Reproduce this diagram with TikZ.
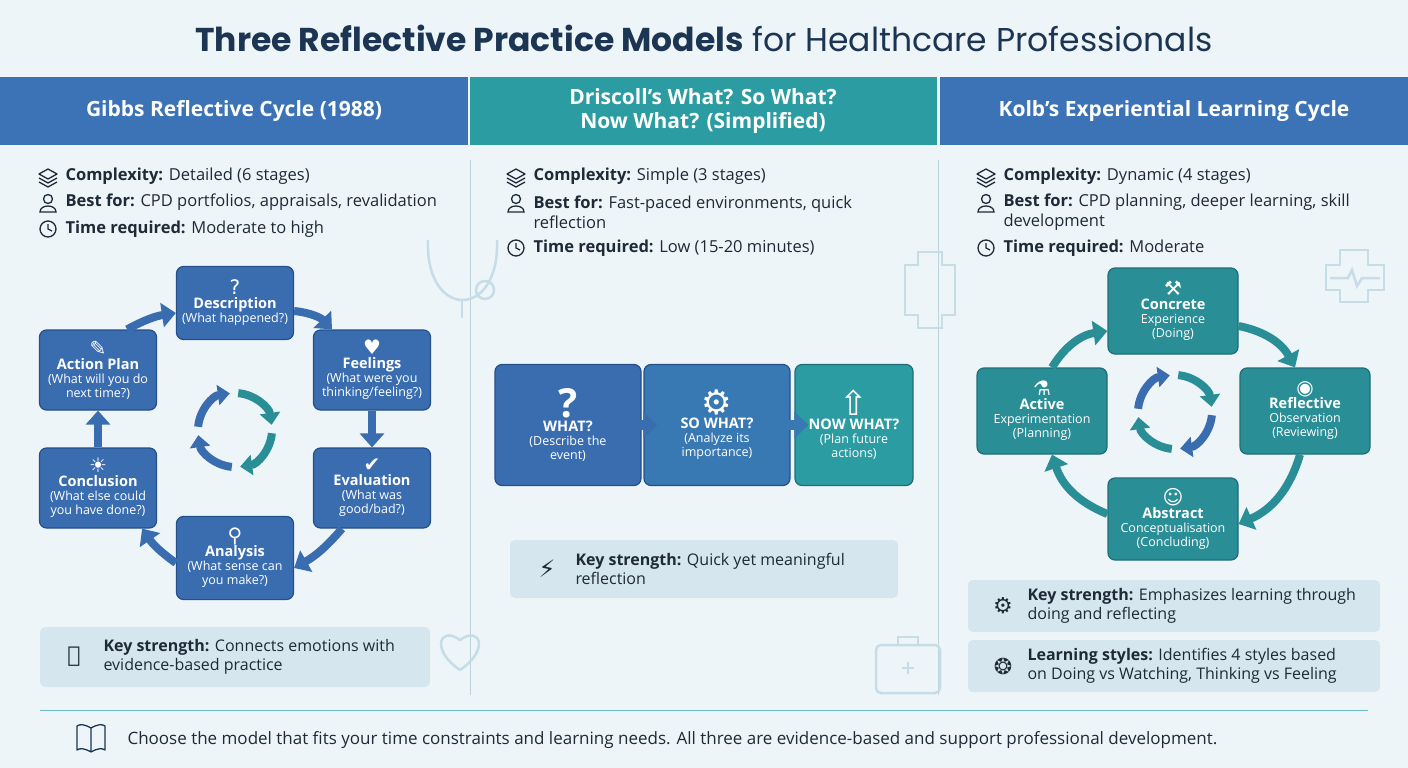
\documentclass[tikz,border=0pt]{standalone}
\usepackage{fontspec}
\setmainfont{Open Sans}
\newfontfamily\titlefont{Poppins}
\newfontfamily\sym{DejaVu Sans}
\usetikzlibrary{arrows.meta,positioning}
\definecolor{bgcol}{HTML}{EDF5F8}
\definecolor{titlecol}{HTML}{1C3553}
\definecolor{hblue}{HTML}{3B73B6}
\definecolor{hteal}{HTML}{2B9CA2}
\definecolor{gblue}{HTML}{3A6DB0}
\definecolor{gdark}{HTML}{244F8A}
\definecolor{kteal}{HTML}{2A8E97}
\definecolor{kdark}{HTML}{1F6E77}
\definecolor{keybox}{HTML}{D6E6EF}
\definecolor{linecol}{HTML}{BFD3DC}
\definecolor{faint}{HTML}{C6DCE6}
\definecolor{txtcol}{HTML}{1E2A36}

\tikzset{
    bodytext/.style={anchor=west, text=txtcol, font=\fontsize{16.5}{20}\selectfont, align=left},
    headtext/.style={text=white, font=\fontsize{21}{24}\selectfont\bfseries, align=center},
    gbox/.style={rounded corners=7, fill=gblue, draw=gdark, line width=1.2, text=white, align=center,
        minimum width=117, minimum height=80, inner sep=2, font=\fontsize{12.5}{14}\selectfont},
    kbox/.style={gbox, fill=kteal, draw=kdark, minimum width=130, minimum height=86},
    keystyle/.style={rounded corners=5, fill=keybox, draw=none},
    barrow/.style={line width=8, draw=gblue, -{Triangle[length=14,width=24]}},
    tarrow/.style={barrow, draw=kteal},
    clockic/.pic={\draw[line width=1.3, txtcol] (0,0) circle (8); \draw[line width=1.3, txtcol] (0,-5) -- (0,0) -- (4,2);},
    userico/.pic={\draw[line width=1.3, txtcol] (0,-4) circle (4.5); \draw[line width=1.3, txtcol] (-8,9) .. controls (-8,1) and (8,1) .. (8,9) -- cycle;},
    layersic/.pic={\draw[line width=1.3, txtcol, line join=round] (0,-7) -- (9,-2) -- (0,3) -- (-9,-2) -- cycle;
        \draw[line width=1.3, txtcol, line join=round] (-9,2) -- (0,7) -- (9,2); \draw[line width=1.3, txtcol, line join=round] (-9,6) -- (0,11) -- (9,6);},
}
\newcommand{\bxhead}{\fontsize{14.5}{16}\selectfont\bfseries}
\newcommand{\bxsub}{\fontsize{12.5}{14}\selectfont\mdseries}
\newcommand{\bxicon}{\sym\fontsize{20}{22}\selectfont}

\begin{document}
\begin{tikzpicture}[x=1pt, y=-1pt]
    \useasboundingbox (0,0) rectangle (1408,768);
    \fill[bgcol] (0,0) rectangle (1408,768);

    % Title
    \node[text=titlecol, font=\titlefont\fontsize{33}{36}\selectfont] (title) at (704,38)
        {\textbf{Three Reflective Practice Models} for Healthcare Professionals};

    % Header bands
    \fill[hblue] (0,77) rectangle (468,145);
    \fill[hteal] (470,77) rectangle (937,145);
    \fill[hblue] (940,77) rectangle (1408,145);
    \node[headtext] (h1) at (234,111) {Gibbs Reflective Cycle (1988)};
    \node[headtext] (h2) at (703,111) {Driscoll's What? So What?\\Now What? (Simplified)};
    \node[headtext] (h3) at (1174,111) {Kolb's Experiential Learning Cycle};

    % Column dividers
    \draw[linecol, line width=1] (470,160) -- (470,695);
    \draw[linecol, line width=1] (938,160) -- (938,695);

    % Faint background marks
    \begin{scope}[faint, line width=2.5]
        \draw (428,240) .. controls (425,320) and (500,320) .. (497,240);
        \draw (462,300) -- (462,318);
        \draw (485,290) circle (9);
        \draw (918,265) -- (918,252) -- (942,252) -- (942,265) -- (955,265) -- (955,315) -- (942,315) -- (942,328) -- (918,328) -- (918,315) -- (905,315) -- (905,265) -- cycle;
        \draw (1340,265) -- (1340,250) -- (1368,250) -- (1368,265) -- (1384,265) -- (1384,290) -- (1368,290) -- (1368,302) -- (1340,302) -- (1340,290) -- (1326,290) -- (1326,265) -- cycle;
        \draw (1330,278) -- (1348,278) -- (1352,270) -- (1357,286) -- (1362,278) -- (1380,278);
        \draw (460,670) .. controls (430,650) and (440,625) .. (460,640) .. controls (480,625) and (490,650) .. (460,670);
        \draw[rounded corners=5] (876,645) rectangle (940,693);
        \draw (898,645) -- (898,637) -- (918,637) -- (918,645);
        \draw (902,668) -- (914,668) (908,662) -- (908,674);
    \end{scope}

    % Gibbs bullets
    \pic at (48,176) {layersic};
    \pic at (48,203) {userico};
    \pic at (48,229) {clockic};
    \node[bodytext] (g1) at (62,176) {\textbf{Complexity:} Detailed (6 stages)};
    \node[bodytext] (g2) at (62,202) {\textbf{Best for:} CPD portfolios, appraisals, revalidation};
    \node[bodytext] (g3) at (62,229) {\textbf{Time required:} Moderate to high};

    % Gibbs cycle
    \node[gbox, minimum height=73] (desc) at (235,303) {\bxicon ?\\\normalfont\bxhead Description\\\bxsub (What happened?)};
    \node[gbox] (feel) at (372,370) {\bxicon ♥\\\normalfont\bxhead Feelings\\\bxsub (What were you\\thinking/feeling?)};
    \node[gbox] (eval) at (372,488) {\bxicon ✔\\\normalfont\bxhead Evaluation\\\bxsub (What was\\good/bad?)};
    \node[gbox, minimum height=83] (anal) at (235,558) {\bxicon ⚲\\\normalfont\bxhead Analysis\\\bxsub (What sense can\\you make?)};
    \node[gbox] (concl) at (98,488) {\bxicon ☀\\\normalfont\bxhead Conclusion\\\bxsub (What else could\\you have done?)};
    \node[gbox] (act) at (98,370) {\bxicon ✎\\\normalfont\bxhead Action Plan\\\bxsub (What will you do\\next time?)};
    \draw[barrow] ([yshift=-8]desc.east) to[bend left=20] ([xshift=-40]feel.north);
    \draw[barrow] (feel.south) -- (eval.north);
    \draw[barrow] ([xshift=-30]eval.south) to[bend left=10] ([yshift=-10]anal.east);
    \draw[barrow] ([yshift=-5]anal.west) to[bend left=10] ([xshift=-15]concl.south east);
    \draw[barrow] (concl.north) -- (act.south);
    \draw[barrow] ([xshift=-30]act.north east) to[bend left=10] ([yshift=-10]desc.west);
    \coordinate (gc) at (235,430);
    \draw[barrow, -{Triangle[length=12,width=20]}] (gc) ++(185:37) arc[start angle=185, end angle=262, radius=37];
    \draw[tarrow, -{Triangle[length=12,width=20]}] (gc) ++(275:37) arc[start angle=275, end angle=352, radius=37];
    \draw[tarrow, -{Triangle[length=12,width=20]}] (gc) ++(5:37) arc[start angle=5, end angle=82, radius=37];
    \draw[barrow, -{Triangle[length=12,width=20]}] (gc) ++(95:37) arc[start angle=95, end angle=172, radius=37];

    % Gibbs key strength
    \fill[keystyle] (40,627) rectangle (430,687);
    \node[text=txtcol, font=\sym\fontsize{22}{22}\selectfont] (hand) at (74,657) {✋};
    \node[bodytext, font=\fontsize{16}{19}\selectfont] (gkey) at (100,657) {\textbf{Key strength:} Connects emotions with\\evidence-based practice};

    % Driscoll bullets
    \pic at (516,176) {layersic};
    \pic at (516,203) {userico};
    \pic at (516,248) {clockic};
    \node[bodytext] (d1) at (530,176) {\textbf{Complexity:} Simple (3 stages)};
    \node[bodytext] (d2) at (530,212) {\textbf{Best for:} Fast-paced environments, quick\\reflection};
    \node[bodytext] (d3) at (530,248) {\textbf{Time required:} Low (15-20 minutes)};

    % Driscoll steps
    \node[gbox, minimum width=146, minimum height=121] (what) at (568,425) {\fontsize{40}{42}\selectfont\bfseries ?\\\bxhead WHAT?\\\bxsub (Describe the\\event)};
    \node[gbox, fill=hblue!85!hteal, minimum width=146, minimum height=121] (sowhat) at (717,425) {\sym\fontsize{34}{38}\selectfont ⚙\\\normalfont\bxhead SO WHAT?\\\bxsub (Analyze its\\importance)};
    \node[gbox, fill=hteal, draw=kdark, minimum width=118, minimum height=121] (nowwhat) at (854,425) {\sym\fontsize{34}{38}\selectfont ⇧\\\normalfont\bxhead NOW WHAT?\\\bxsub (Plan future\\actions)};
    \draw[barrow, line width=10, -{Triangle[length=14,width=26]}] ([xshift=-10]what.east) -- ([xshift=14]sowhat.west);
    \draw[barrow, draw=hblue!85!hteal, line width=10, -{Triangle[length=14,width=26]}] ([xshift=-10]sowhat.east) -- ([xshift=14]nowwhat.west);

    % Driscoll key strength
    \fill[keystyle] (510,540) rectangle (898,598);
    \node[text=txtcol, font=\sym\fontsize{24}{24}\selectfont] (bolt) at (547,569) {⚡};
    \node[bodytext, font=\fontsize{16}{19}\selectfont] (dkey) at (572,569) {\textbf{Key strength:} Quick yet meaningful\\reflection};

    % Kolb bullets
    \pic at (986,176) {layersic};
    \pic at (986,203) {userico};
    \pic at (986,248) {clockic};
    \node[bodytext] (k1) at (1000,176) {\textbf{Complexity:} Dynamic (4 stages)};
    \node[bodytext] (k2) at (1000,212) {\textbf{Best for:} CPD planning, deeper learning, skill\\development};
    \node[bodytext] (k3) at (1000,248) {\textbf{Time required:} Moderate};

    % Kolb cycle
    \node[kbox] (ce) at (1173,311) {\bxicon ⚒\\\normalfont\bxhead Concrete\\Experience\\\bxsub (Doing)};
    \node[kbox] (ro) at (1305,411) {\bxicon ◉\\\normalfont\bxhead Reflective\\Observation\\\bxsub (Reviewing)};
    \node[kbox, minimum height=82] (ac) at (1173,519) {\bxicon ☺\\\normalfont\bxhead Abstract\\Conceptualisation\\\bxsub (Concluding)};
    \node[kbox] (ae) at (1042,411) {\bxicon ⚗\\\normalfont\bxhead Active\\Experimentation\\\bxsub (Planning)};
    \draw[tarrow] ([yshift=-15]ce.east) to[bend left=25] ([xshift=-10]ro.north);
    \draw[tarrow] ([xshift=-5]ro.south) to[bend left=25] ([yshift=-5]ac.east);
    \draw[tarrow] ([yshift=5]ac.west) to[bend left=25] ([xshift=10]ae.south);
    \draw[tarrow] ([xshift=10]ae.north) to[bend left=25] ([yshift=-20]ce.west);
    \coordinate (kc) at (1175,412);
    \draw[barrow, -{Triangle[length=12,width=20]}] (kc) ++(185:37) arc[start angle=185, end angle=262, radius=37];
    \draw[tarrow, -{Triangle[length=12,width=20]}] (kc) ++(275:37) arc[start angle=275, end angle=352, radius=37];
    \draw[barrow, -{Triangle[length=12,width=20]}] (kc) ++(5:37) arc[start angle=5, end angle=82, radius=37];
    \draw[tarrow, -{Triangle[length=12,width=20]}] (kc) ++(95:37) arc[start angle=95, end angle=172, radius=37];

    % Kolb key boxes
    \fill[keystyle] (968,580) rectangle (1380,632);
    \fill[keystyle] (968,640) rectangle (1380,692);
    \node[text=txtcol, font=\sym\fontsize{22}{22}\selectfont] (gearhand) at (1003,606) {⚙};
    \node[text=txtcol, font=\sym\fontsize{22}{22}\selectfont] (brain) at (1003,666) {❂};
    \node[bodytext, font=\fontsize{16}{19}\selectfont] (kkey) at (1024,606) {\textbf{Key strength:} Emphasizes learning through\\doing and reflecting};
    \node[bodytext, font=\fontsize{16}{19}\selectfont] (kstyle) at (1024,666) {\textbf{Learning styles:} Identifies 4 styles based\\on Doing vs Watching, Thinking vs Feeling};

    % Footer
    \draw[hteal!70, line width=1] (40,710) -- (1368,710);
    \begin{scope}[titlecol, line width=1.3, line join=round]
        \draw (91,728) -- (91,752) (91,728) .. controls (84,724) and (80,724) .. (77,726) -- (77,750) .. controls (80,748) and (84,748) .. (91,752);
        \draw (91,728) .. controls (98,724) and (102,724) .. (105,726) -- (105,750) .. controls (102,748) and (98,748) .. (91,752);
    \end{scope}
    \node[bodytext, font=\fontsize{17}{20}\selectfont] (foot) at (124,740) {Choose the model that fits your time constraints and learning needs. All three are evidence-based and support professional development.};
\end{tikzpicture}
\end{document}
